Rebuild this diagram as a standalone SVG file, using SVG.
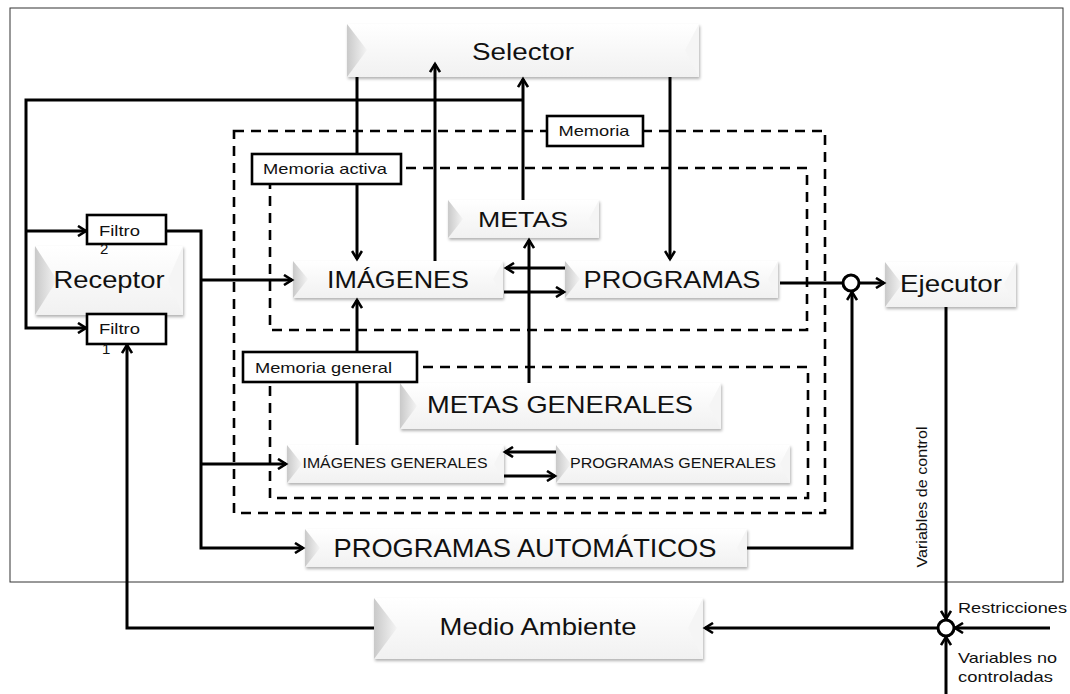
<svg xmlns="http://www.w3.org/2000/svg" width="1070" height="694" viewBox="0 0 1070 694">
<defs>
<linearGradient id="face" x1="0" y1="0" x2="0" y2="1">
<stop offset="0" stop-color="#ffffff"/>
<stop offset="1" stop-color="#f1f1f1"/>
</linearGradient>
<linearGradient id="bev" x1="0" y1="0" x2="1" y2="0">
<stop offset="0" stop-color="#c9c9c9"/>
<stop offset="1" stop-color="#f4f4f4"/>
</linearGradient>
<filter id="sh" x="-10%" y="-20%" width="120%" height="150%">
<feDropShadow dx="1" dy="2" stdDeviation="1.5" flood-color="#000" flood-opacity="0.3"/>
</filter>
<marker id="ar" viewBox="0 0 12 12" markerUnits="userSpaceOnUse" markerWidth="12" markerHeight="12" refX="9" refY="6" orient="auto">
<path d="M1,1 L9,6 L1,11" fill="none" stroke="#000" stroke-width="2.6"/>
</marker>
</defs>
<style>
.frame{fill:none;stroke:#333;stroke-width:1}
.dash{fill:none;stroke:#000;stroke-width:2.6;stroke-dasharray:10 7}
.face{fill:url(#face);filter:url(#sh)}
.bev{fill:url(#bev)}
.rbev{fill:#f5f5f5}
.c{fill:none;stroke:#000;stroke-width:3}
.lab{fill:#fff;stroke:#000;stroke-width:2.6}
.sum{fill:#fff;stroke:#000;stroke-width:3}
text{font-family:"Liberation Sans",Arial,sans-serif;fill:#111}
.big{font-size:24px}
.sm{font-size:15px}
.xs{font-size:14px}
</style>
<rect x="0" y="0" width="1070" height="694" fill="#fff"/>
<rect class="frame" x="10" y="8" width="1053" height="574"/>

<g id="memorias">
<rect class="dash" x="234" y="131" width="591" height="382"/>
<rect class="dash" x="270" y="168" width="537" height="162"/>
<rect class="dash" x="270" y="367" width="538" height="131"/>
</g>

<g id="selector">
<rect class="face" x="347" y="24" width="352" height="53"/>
<polygon class="bev" points="347,24 367,50 347,77"/>
<polygon class="rbev" points="699,24 685,50 699,77"/>
<text class="big" x="523" y="60" text-anchor="middle" textLength="102" lengthAdjust="spacingAndGlyphs">Selector</text>
</g>

<g id="receptor">
<rect class="face" x="35" y="246" width="148" height="69"/>
<polygon class="bev" points="35,246 57,280 35,315"/>
<polygon class="rbev" points="183,246 168,280 183,315"/>
<text class="big" x="109" y="288" text-anchor="middle" font-size="25" textLength="111" lengthAdjust="spacingAndGlyphs">Receptor</text>
</g>

<g id="metas">
<rect class="face" x="448" y="200" width="151" height="38"/>
<polygon class="bev" points="448,200 463,219 448,238"/>
<polygon class="rbev" points="599,200 589,219 599,238"/>
<text x="523" y="227" text-anchor="middle" font-size="22" textLength="90" lengthAdjust="spacingAndGlyphs">METAS</text>
</g>

<g id="imagenes">
<rect class="face" x="293" y="261" width="210" height="37"/>
<polygon class="bev" points="293,261 308,279 293,298"/>
<polygon class="rbev" points="503,261 493,279 503,298"/>
<text x="398" y="288" text-anchor="middle" font-size="23" textLength="142" lengthAdjust="spacingAndGlyphs">IMÁGENES</text>
</g>

<g id="programas">
<rect class="face" x="565" y="261" width="213" height="37"/>
<polygon class="bev" points="565,261 580,279 565,298"/>
<polygon class="rbev" points="778,261 768,279 778,298"/>
<text x="672" y="288" text-anchor="middle" font-size="23" textLength="177" lengthAdjust="spacingAndGlyphs">PROGRAMAS</text>
</g>

<g id="ejecutor">
<rect class="face" x="885" y="262" width="131" height="45"/>
<polygon class="bev" points="885,262 902,284 885,307"/>
<polygon class="rbev" points="1016,262 1004,284 1016,307"/>
<text class="big" x="951" y="292" text-anchor="middle" textLength="102" lengthAdjust="spacingAndGlyphs">Ejecutor</text>
</g>

<g id="metas-generales">
<rect class="face" x="400" y="383" width="321" height="46"/>
<polygon class="bev" points="400,383 417,406 400,429"/>
<polygon class="rbev" points="721,383 709,406 721,429"/>
<text class="big" x="560" y="413" text-anchor="middle" textLength="266" lengthAdjust="spacingAndGlyphs">METAS GENERALES</text>
</g>

<g id="imagenes-generales">
<rect class="face" x="287" y="445" width="217" height="38"/>
<polygon class="bev" points="287,445 302,464 287,483"/>
<polygon class="rbev" points="504,445 494,464 504,483"/>
<text class="xs" x="395" y="468" text-anchor="middle" textLength="185" lengthAdjust="spacingAndGlyphs">IMÁGENES GENERALES</text>
</g>

<g id="programas-generales">
<rect class="face" x="556" y="445" width="234" height="38"/>
<polygon class="bev" points="556,445 571,464 556,483"/>
<polygon class="rbev" points="790,445 780,464 790,483"/>
<text class="xs" x="673" y="468" text-anchor="middle" textLength="206" lengthAdjust="spacingAndGlyphs">PROGRAMAS GENERALES</text>
</g>

<g id="programas-automaticos">
<rect class="face" x="305" y="529" width="442" height="38"/>
<polygon class="bev" points="305,529 320,548 305,567"/>
<polygon class="rbev" points="747,529 737,548 747,567"/>
<text x="525" y="557" text-anchor="middle" font-size="25" textLength="383" lengthAdjust="spacingAndGlyphs">PROGRAMAS AUTOMÁTICOS</text>
</g>

<g id="medio-ambiente">
<rect class="face" x="374" y="598" width="329" height="61"/>
<polygon class="bev" points="374,598 397,628 374,659"/>
<polygon class="rbev" points="703,598 688,628 703,659"/>
<text class="big" x="538" y="635" text-anchor="middle" textLength="197" lengthAdjust="spacingAndGlyphs">Medio Ambiente</text>
</g>

<g id="connectors">
<path class="c" marker-end="url(#ar)" d="M357,77 V259"/>
<path class="c" marker-end="url(#ar)" d="M435,261 V64"/>
<path class="c" marker-end="url(#ar)" d="M523,200 V79"/>
<path class="c" marker-end="url(#ar)" d="M523,100 H26 V328 H86"/>
<path class="c" marker-end="url(#ar)" d="M26,231 H86"/>
<path class="c" marker-end="url(#ar)" d="M670,77 V259"/>
<path class="c" marker-end="url(#ar)" d="M565,268 H506"/>
<path class="c" marker-end="url(#ar)" d="M504,292 H564"/>
<path class="c" marker-end="url(#ar)" d="M529,383 V240"/>
<path class="c" marker-end="url(#ar)" d="M357,445 V300"/>
<path class="c" marker-end="url(#ar)" d="M556,452 H505"/>
<path class="c" marker-end="url(#ar)" d="M504,476 H555"/>
<path class="c" marker-end="url(#ar)" d="M166,231 H201 V548 H303"/>
<path class="c" marker-end="url(#ar)" d="M201,280 H292"/>
<path class="c" marker-end="url(#ar)" d="M201,464 H286"/>
<path class="c" d="M780,283 H843"/>
<path class="c" marker-end="url(#ar)" d="M859,283 H884"/>
<path class="c" marker-end="url(#ar)" d="M747,548 H852 V292"/>
<path class="c" marker-end="url(#ar)" d="M946,307 V619"/>
<path class="c" marker-end="url(#ar)" d="M1050,628 H955"/>
<path class="c" marker-end="url(#ar)" d="M946,694 V637"/>
<path class="c" marker-end="url(#ar)" d="M938,628 H705"/>
<path class="c" marker-end="url(#ar)" d="M374,628 H127 V345"/>
</g>

<g id="filtro-2">
<rect class="lab" x="87" y="215" width="79" height="29"/>
<text class="sm" x="99" y="236" textLength="41" lengthAdjust="spacingAndGlyphs">Filtro</text>
<text class="sm" x="100" y="254">2</text>
</g>

<g id="filtro-1">
<rect class="lab" x="87" y="314" width="79" height="30"/>
<text class="sm" x="99" y="334" textLength="41" lengthAdjust="spacingAndGlyphs">Filtro</text>
<text class="sm" x="102" y="354">1</text>
</g>

<g id="label-memoria">
<rect class="lab" x="547" y="116" width="96" height="30"/>
<text class="sm" x="594" y="136" text-anchor="middle" textLength="71" lengthAdjust="spacingAndGlyphs">Memoria</text>
</g>

<g id="label-memoria-activa">
<rect class="lab" x="252" y="154" width="149" height="30"/>
<text class="sm" x="263" y="174" textLength="124" lengthAdjust="spacingAndGlyphs">Memoria activa</text>
</g>

<g id="label-memoria-general">
<rect class="lab" x="243" y="352" width="174" height="30"/>
<text class="sm" x="255" y="373" textLength="137" lengthAdjust="spacingAndGlyphs">Memoria general</text>
</g>

<g id="sum-ejecutor">
<circle class="sum" cx="851" cy="283" r="8"/>
</g>
<g id="sum-ambiente">
<circle class="sum" cx="946" cy="628" r="8"/>
</g>

<g id="edge-labels">
<text class="sm" transform="translate(927,497) rotate(-90)" text-anchor="middle" textLength="141" lengthAdjust="spacingAndGlyphs">Variables de control</text>
<text class="sm" x="958" y="613" textLength="109" lengthAdjust="spacingAndGlyphs">Restricciones</text>
<text class="sm" x="958" y="663" textLength="99" lengthAdjust="spacingAndGlyphs">Variables no</text>
<text class="sm" x="958" y="682" textLength="95" lengthAdjust="spacingAndGlyphs">controladas</text>
</g>
</svg>
